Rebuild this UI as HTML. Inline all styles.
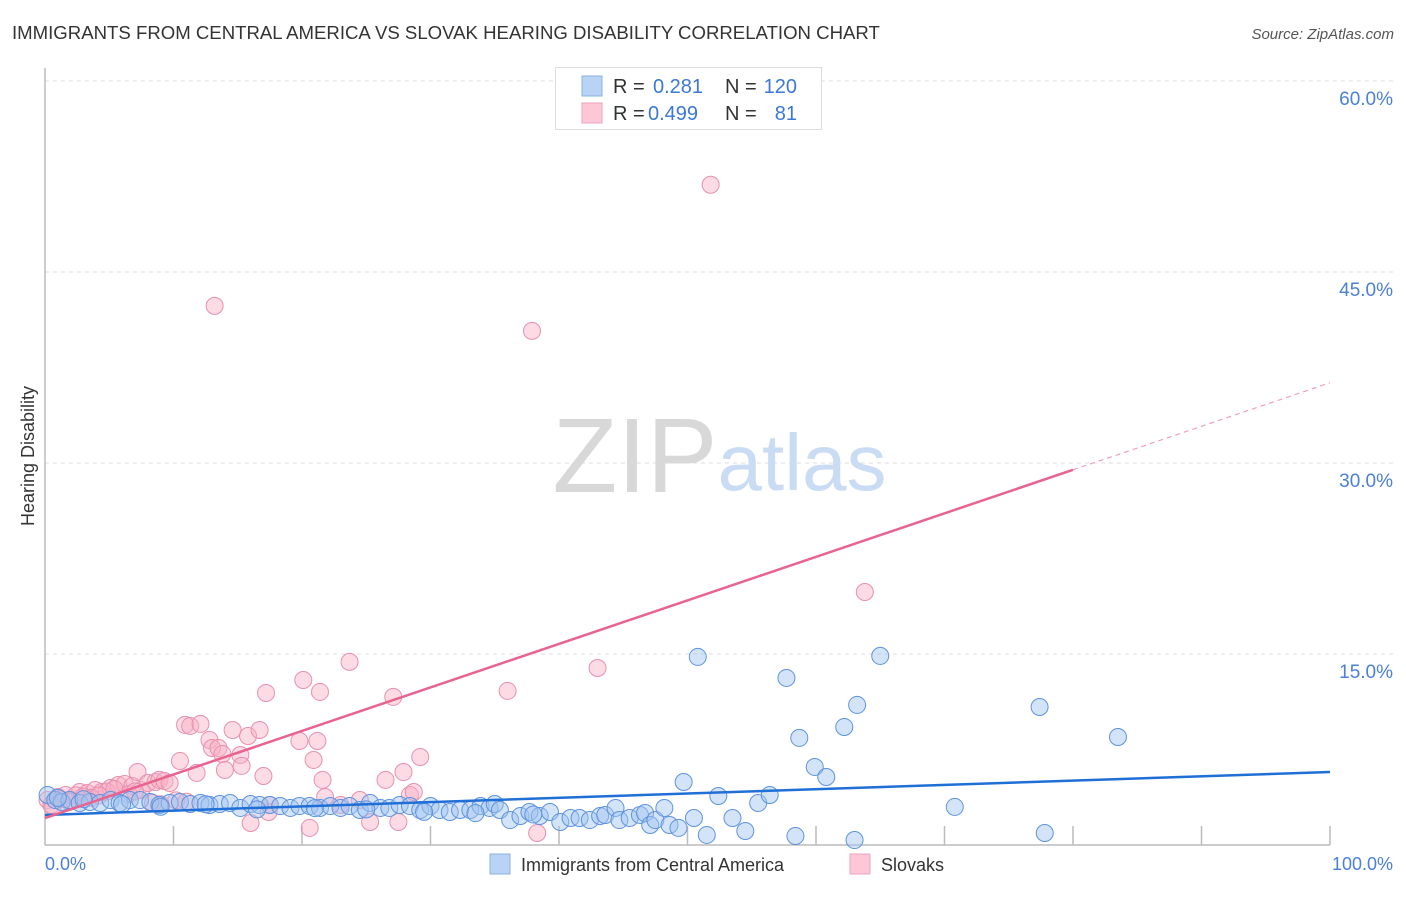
<!DOCTYPE html>
<html><head><meta charset="utf-8"><style>
body{margin:0;background:#fff;font-family:"Liberation Sans",sans-serif;}
svg text{font-family:"Liberation Sans",sans-serif;}
</style></head><body>
<svg id="chart" width="1406" height="892" viewBox="0 0 1406 892" xmlns="http://www.w3.org/2000/svg">
<text x="12" y="39" font-size="18.6" fill="#333">IMMIGRANTS FROM CENTRAL AMERICA VS SLOVAK HEARING DISABILITY CORRELATION CHART</text>
<text x="1394" y="39" font-size="15" fill="#555" text-anchor="end" font-style="italic">Source: ZipAtlas.com</text>
<text transform="translate(34,456) rotate(-90)" font-size="18" fill="#333" text-anchor="middle">Hearing Disability</text>
<g id="grid"></g>
<g>
<text x="635" y="492" font-size="106" fill="#d8d8d8" font-family="Liberation Serif, serif" text-anchor="middle">ZIP</text>
<text x="802" y="490" font-size="80" fill="#c9dcf3" text-anchor="middle">atlas</text>
</g>
<line x1="45" y1="68" x2="45" y2="845" stroke="#bbb" stroke-width="1.5"/>
<line x1="45" y1="845" x2="1330" y2="845" stroke="#bbb" stroke-width="1.5"/>
<g id="ticks"></g>
<g id="pts"></g>
<g id="trends"></g>
<text x="45" y="870" font-size="18" fill="#4a80d9">0.0%</text>
<text x="1393" y="870" font-size="18" fill="#4a80d9" text-anchor="end">100.0%</text>
<g>
<rect x="555.5" y="67.5" width="266" height="62" fill="#fff" stroke="#ddd"/>
<rect x="582" y="76" width="20" height="20" fill="#b9d3f5" stroke="#8ab0e6"/>
<rect x="582" y="103" width="20" height="20" fill="#fcc8d7" stroke="#eea3bb"/>
<text x="613" y="93" font-size="20" fill="#333">R =</text>
<text x="653" y="93" font-size="20" fill="#3b78d8">0.281</text>
<text x="725" y="93" font-size="20" fill="#333">N =</text>
<text x="797" y="93" font-size="20" fill="#3b78d8" text-anchor="end">120</text>
<text x="613" y="120" font-size="20" fill="#333">R =</text>
<text x="648" y="120" font-size="20" fill="#3b78d8">0.499</text>
<text x="725" y="120" font-size="20" fill="#333">N =</text>
<text x="797" y="120" font-size="20" fill="#3b78d8" text-anchor="end">81</text>
</g>
<g>
<rect x="490" y="854" width="20" height="20" fill="#b9d3f5" stroke="#8ab0e6"/>
<text x="521" y="871" font-size="18" fill="#333">Immigrants from Central America</text>
<rect x="850" y="854" width="20" height="20" fill="#fcc8d7" stroke="#eea3bb"/>
<text x="881" y="871" font-size="18" fill="#333">Slovaks</text>
</g>
</svg>
<script>
const yTicks=[15,30,45,60];
const yTickLabels=["15.0%","30.0%","45.0%","60.0%"];
const xTicks=[10,20,30,40,50,60,70,80,90,100];
const blueX=[0.2,0.8,1.3,1.9,2.7,3.5,4.3,5.1,5.8,6.6,7.4,8.2,8.9,9.7,10.5,11.3,12.1,12.8,13.6,14.4,15.2,16.0,16.7,17.5,18.3,19.1,19.8,20.6,21.4,22.2,23.0,23.7,24.5,25.3,26.1,26.8,27.6,28.4,29.2,30.0,30.7,31.5,32.3,33.1,33.9,34.6,35.0,35.4,36.2,37.0,37.7,38.5,39.3,40.1,40.9,41.6,42.4,43.2,43.6,44.4,44.7,45.5,46.3,46.7,47.1,47.5,48.2,48.6,49.3,49.7,50.5,50.8,51.5,52.4,53.5,54.5,55.5,56.4,57.7,58.4,58.7,59.9,60.8,62.2,63.0,63.2,65.0,70.8,77.4,77.8,83.5,1.0,3.0,6.0,9.0,12.5,16.5,21.0,25.0,29.5,33.5,38.0];
const blueY=[3.93,3.53,3.38,3.53,3.30,3.38,3.30,3.53,3.30,3.53,3.53,3.38,3.14,3.30,3.38,3.22,3.30,3.14,3.22,3.30,2.91,3.22,3.14,3.14,3.06,2.91,3.06,3.06,2.91,3.06,2.91,3.06,2.75,3.30,2.91,2.91,3.14,3.06,2.75,3.06,2.75,2.59,2.75,2.75,3.06,2.91,3.22,2.75,1.96,2.28,2.59,2.28,2.59,1.81,2.12,2.12,1.96,2.28,2.36,2.91,1.96,2.12,2.36,2.51,1.57,1.96,2.91,1.57,1.34,4.95,2.12,14.77,0.79,3.85,2.12,1.10,3.30,3.93,13.12,0.71,8.41,6.13,5.34,9.27,0.39,11.0,14.85,2.99,10.84,0.94,8.48,3.7,3.6,3.2,3.0,3.2,2.8,2.9,2.8,2.6,2.5,2.4];
const pinkX=[0.2,0.5,1.0,1.6,2.1,2.7,3.3,3.9,4.4,5.1,5.7,6.2,6.8,7.2,7.5,8.0,8.6,8.9,9.3,9.7,10.5,10.9,11.3,11.8,12.1,12.8,13.0,13.2,13.5,13.8,14.0,14.6,15.2,15.3,15.8,16.0,16.7,17.0,17.2,17.4,17.5,19.8,20.1,20.6,20.9,21.2,21.4,21.6,21.8,23.0,23.7,24.5,25.3,26.5,27.1,27.5,27.9,28.4,28.7,29.2,36.0,37.9,38.3,43.0,51.8,63.8,1.2,2.4,3.6,4.8,6.5,8.4,10.2,0.6,1.9,3.0,4.2,5.4,7.0,9.0,11.0];
const pinkY=[3.53,3.14,3.77,3.93,3.53,4.16,4.08,4.32,4.16,4.48,4.71,4.79,4.63,5.73,4.32,4.87,4.95,5.11,5.03,4.87,6.60,9.43,9.35,5.66,9.51,8.25,7.62,42.34,7.62,7.15,5.89,9.03,7.07,6.21,8.56,1.73,9.03,5.42,11.94,2.59,3.14,8.17,12.96,1.34,6.68,8.17,12.02,5.11,3.77,3.14,14.38,3.53,1.81,5.11,11.63,1.81,5.73,3.93,4.16,6.91,12.10,40.38,0.94,13.90,51.85,19.87,3.6,3.9,3.7,4.2,4.0,3.3,3.5,3.0,3.4,3.8,3.9,4.4,4.2,3.2,3.4];
const blueTrend=[2.36,5.73];
const pinkTrend=[2.12,36.3];
const pinkSolidEnd=80;

const X0=45,X1=1330,Y0=845,PXPER=191/15;
const sx=v=>X0+(X1-X0)*v/100;
const sy=v=>Y0-v*PXPER;
const NS="http://www.w3.org/2000/svg";
function mk(tag,attrs,parent){const e=document.createElementNS(NS,tag);for(const k in attrs)e.setAttribute(k,attrs[k]);parent.appendChild(e);return e;}
const grid=document.getElementById('grid');
yTicks.forEach((t,i)=>{
  const l=mk('line',{x1:45,x2:1395,y1:sy(t),y2:sy(t),stroke:'#ddd','stroke-dasharray':'4,4'},grid);
  
  
  const tx=mk('text',{x:1393,y:sy(t)+24,'font-size':19,fill:'#4a80d9','text-anchor':'end'},grid);
  tx.textContent=yTickLabels[i];
  
  
});
const ticks=document.getElementById('ticks');
xTicks.forEach(t=>{
  const l=mk('line',{x1:sx(t),x2:sx(t),y1:826,y2:845,stroke:'#bbb','stroke-width':1.5},ticks);
  
  
});
const pts=document.getElementById('pts');
pinkX.forEach((x,i)=>{
  const c=mk('circle',{cx:sx(x),cy:sy(pinkY[i]),r:8.5,fill:'rgba(248,175,198,0.45)',stroke:'#e890ad','stroke-width':1},pts);
  
  
});
blueX.forEach((x,i)=>{
  const c=mk('circle',{cx:sx(x),cy:sy(blueY[i]),r:8.5,fill:'rgba(160,195,240,0.45)',stroke:'#5e93e0','stroke-width':1},pts);
  
  
});
const tr=document.getElementById('trends');
const bl=mk('line',{x1:sx(0),y1:sy(blueTrend[0]),x2:sx(100),y2:sy(blueTrend[1]),stroke:'#1f6fd6','stroke-width':2.5},tr);


const pm=pinkTrend[0]+(pinkTrend[1]-pinkTrend[0])*pinkSolidEnd/100;
const pl=mk('line',{x1:sx(0),y1:sy(pinkTrend[0]),x2:sx(pinkSolidEnd),y2:sy(pm),stroke:'#e8638f','stroke-width':2.5},tr);


const pd=mk('line',{x1:sx(pinkSolidEnd),y1:sy(pm),x2:sx(100),y2:sy(pinkTrend[1]),stroke:'#eea0ba','stroke-width':1.2,'stroke-dasharray':'5,4'},tr);


</script>
</body></html>
